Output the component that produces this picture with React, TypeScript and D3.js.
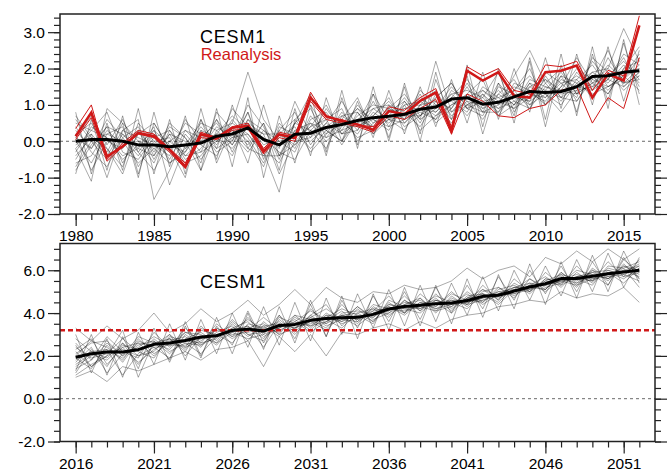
import React, { useEffect, useRef } from "react"
import * as d3 from "d3"

// years on the x axis
const yearsTop = d3.range(1980, 2017)
const yearsBottom = d3.range(2016, 2053)

// tick labels
const xTicksTop = [1980, 1985, 1990, 1995, 2000, 2005, 2010, 2015]
const xTicksBottom = [2016, 2021, 2026, 2031, 2036, 2041, 2046, 2051]
const yTicksTop = [-2, -1, 0, 1, 2, 3]
const yTicksBottom = [-2, 0, 2, 4, 6]

// ensemble mean, 1980-2016
const meanTop = [0.0, 0.05, 0.05, 0.0, -0.1, -0.1, -0.15, -0.1, -0.05, 0.14, 0.2, 0.37, 0.05, -0.1, 0.19, 0.22, 0.38, 0.46, 0.57, 0.65, 0.69, 0.74, 0.88, 0.94, 1.16, 1.2, 1.02, 1.07, 1.22, 1.37, 1.34, 1.37, 1.5, 1.78, 1.8, 1.9, 1.94]

// reanalysis products, 1980-2016 (first one is drawn thick)
const reanMain = [0.14, 0.79, -0.42, -0.14, 0.23, 0.14, -0.23, -0.69, 0.19, 0.09, 0.37, 0.42, -0.28, 0.19, 0.09, 1.2, 0.69, 0.56, 0.46, 0.32, 0.83, 0.74, 1.11, 1.34, 0.28, 1.94, 1.67, 1.9, 1.25, 1.2, 1.9, 1.94, 2.08, 1.2, 1.85, 1.67, 3.19]
const reanB = [0.35, 1.0, -0.5, -0.05, 0.3, 0.2, -0.2, -0.6, 0.25, 0.1, 0.4, 0.5, -0.2, 0.25, 0.15, 1.35, 0.65, 0.6, 0.45, 0.4, 0.95, 0.85, 1.2, 1.45, 0.4, 2.05, 1.8, 2.0, 1.4, 1.3, 2.1, 2.05, 2.2, 1.4, 1.95, 1.8, 3.45]
const reanC = [0.05, 0.65, -0.55, -0.15, 0.2, 0.1, -0.3, -0.75, 0.1, 0.05, 0.3, 0.35, -0.35, 0.1, 0.0, 1.1, 0.6, 0.5, 0.4, 0.25, 0.7, 0.6, 0.9, 1.15, 0.2, 1.3, 1.1, 0.7, 0.65, 0.9, 1.0, 1.4, 1.5, 0.5, 1.2, 0.9, 2.3]

// ensemble members, 1980-2016
const membersTop = [
  [0.3, -0.2, 0.6, 0.1, -0.4, 0.2, -0.5, 0.3, 0.1, 0.5, -0.1, 0.8, -0.3, 0.2, 0.6, 0.1, 0.9, 0.3, 1.0, 0.5, 0.9, 1.3, 0.7, 1.2, 1.6, 0.9, 1.4, 1.0, 1.8, 2.5, 1.6, 2.0, 1.3, 2.2, 1.7, 2.4, 2.1],
  [-0.5, 0.2, -0.3, 0.5, 0.0, -0.6, 0.3, -0.2, 0.4, -0.1, 0.6, 0.1, -0.6, 0.3, -0.2, 0.7, 0.2, 0.8, 0.3, 1.1, 0.4, 0.6, 1.3, 0.5, 0.9, 1.5, 0.8, 1.6, 1.1, 0.9, 1.8, 1.2, 1.9, 1.4, 2.3, 1.6, 1.8],
  [0.7, 0.1, -0.4, 0.3, 0.6, -1.6, -0.8, 0.2, -0.3, 0.6, 0.0, 1.0, 0.4, -0.5, 0.5, 0.9, 0.1, 0.6, 1.2, 0.2, 0.8, 1.1, 0.6, 2.2, 0.8, 1.3, 1.7, 0.7, 1.4, 2.0, 1.0, 1.5, 2.3, 1.6, 1.3, 2.0, 2.6],
  [-0.8, -0.1, 0.4, -0.6, 0.2, 0.5, -0.2, -0.7, 0.3, 0.1, -0.4, 0.5, 0.2, -0.9, 0.0, 0.4, 1.0, 0.2, 0.5, 1.3, 0.6, 0.3, 1.0, 1.4, 0.7, 1.0, 1.2, 1.9, 0.8, 1.5, 1.2, 1.8, 1.1, 1.7, 2.5, 1.5, 1.9],
  [0.2, 0.5, -0.2, -0.9, 0.3, -0.3, 0.4, 0.1, -0.6, 0.8, 0.3, -0.2, -0.4, 0.3, 0.8, -0.1, 0.5, 1.1, 0.4, 0.7, 1.2, 0.5, 0.9, 0.6, 1.4, 1.1, 0.6, 1.3, 1.7, 1.0, 1.6, 1.1, 1.7, 2.1, 1.5, 1.8, 1.4],
  [0.0, -0.6, 0.2, 0.4, -0.7, 0.0, -0.3, 0.5, 0.2, -0.2, 0.9, 0.4, -0.2, -0.6, 0.3, 0.5, 0.0, 0.4, 0.9, 0.6, 0.3, 1.0, 1.1, 0.8, 1.2, 1.7, 1.1, 0.9, 1.4, 1.8, 1.3, 1.0, 1.6, 1.9, 2.0, 3.1, 2.2],
  [-0.3, 0.4, 0.1, -0.4, -0.2, 0.4, -1.2, -0.1, 0.5, 0.3, 0.5, 1.9, 0.6, 0.0, -0.3, 0.6, 0.8, 0.2, 0.7, 1.0, 0.9, 0.6, 1.4, 1.0, 1.1, 0.8, 1.5, 1.2, 0.9, 1.6, 1.4, 1.9, 1.3, 1.6, 1.8, 2.2, 1.7],
  [0.4, -0.3, -0.7, 0.1, 0.4, -0.4, 0.2, -0.5, -0.2, 0.4, 0.1, 0.2, -0.3, -1.4, 0.6, 1.0, 0.3, 0.0, 0.6, 0.9, 1.0, 0.4, 0.7, 1.2, 1.6, 0.9, 0.7, 1.5, 1.3, 1.1, 1.9, 1.6, 1.2, 2.3, 1.9, 1.6, 2.0],
  [-0.2, 0.3, 0.8, -0.3, -0.5, 0.1, 0.3, -0.4, 0.0, 0.6, -0.3, 0.6, 0.3, -0.2, 1.1, 0.2, 0.6, 0.9, 0.0, 0.5, 0.7, 1.2, 0.6, 0.9, 1.3, 1.4, 1.2, 0.8, 1.6, 1.4, 1.0, 1.5, 1.8, 1.5, 2.1, 1.7, 2.3],
  [0.6, 0.0, -0.5, 0.2, -0.3, -0.8, 0.0, 0.3, -0.1, -0.4, 0.4, 0.0, -0.7, 0.4, 0.2, 0.0, 0.4, 0.7, 0.8, 0.3, 1.0, 0.8, 0.4, 1.1, 0.9, 1.6, 0.9, 1.3, 1.0, 1.7, 1.5, 1.3, 1.4, 1.9, 1.6, 2.1, 1.6],
  [-0.6, -0.4, 0.3, -0.1, 0.0, -0.2, -0.6, -0.2, 0.2, 0.0, 0.3, -0.1, 0.5, -0.4, -0.1, 0.3, 0.7, 0.5, 0.2, 0.8, 0.5, 0.9, 1.0, 0.7, 1.0, 1.2, 0.9, 1.1, 1.5, 1.3, 1.1, 1.7, 1.5, 1.4, 1.7, 2.3, 1.5],
  [0.1, 0.7, -0.1, 0.6, -0.3, 0.3, -0.1, -0.3, 0.6, -0.2, 0.1, 0.5, -0.1, 0.1, 0.4, -0.3, 0.2, 0.5, 0.9, 0.4, 0.6, 0.7, 1.2, 0.9, 1.5, 1.0, 1.3, 0.9, 1.1, 1.5, 1.7, 1.4, 2.0, 1.7, 1.5, 1.8, 2.4],
  [-0.4, 0.1, -0.2, -0.7, 0.5, 0.0, 0.1, -0.6, -0.4, 0.2, 0.7, 0.3, 0.1, -0.3, -0.5, 0.3, 0.1, 0.3, 0.5, 0.7, 1.1, 0.6, 0.8, 0.6, 1.0, 1.3, 0.8, 1.0, 1.2, 1.1, 1.4, 1.2, 1.5, 1.8, 1.4, 1.9, 2.0],
  [0.2, -0.8, 0.0, -0.2, 0.3, -0.5, 0.2, 0.0, -0.8, 0.3, -0.1, 0.6, 0.0, -0.1, 0.5, 0.3, -0.2, 0.7, 0.4, 0.6, 0.4, 1.1, 0.5, 1.3, 0.8, 1.1, 1.0, 1.4, 1.0, 1.3, 1.2, 1.6, 1.7, 1.2, 1.9, 1.4, 1.8],
  [-0.1, 0.2, -1.0, 0.3, 0.1, -0.1, -0.4, 0.6, 0.0, 0.2, 0.2, -0.3, 0.3, 0.0, 0.1, 0.4, 0.6, -0.1, 0.6, 0.4, 0.8, 0.9, 0.9, 0.8, 1.3, 0.9, 1.1, 1.2, 1.4, 0.9, 1.5, 1.4, 1.3, 1.6, 2.0, 1.6, 1.7],
  [0.5, 0.3, 0.1, -0.5, -0.1, 0.3, -0.6, -0.3, 0.3, -0.3, 0.0, 0.8, -0.5, 0.5, 0.0, 0.1, 0.5, 0.2, 0.3, 0.9, 0.6, 0.5, 1.0, 1.1, 0.6, 1.2, 1.4, 1.1, 0.9, 1.2, 1.7, 1.2, 1.1, 1.8, 1.3, 2.0, 2.2],
  [-0.7, 0.0, 0.2, 0.0, -0.6, -0.2, 0.0, -0.4, -0.3, 0.0, 0.5, 0.2, -0.4, -0.4, 0.3, -0.2, 0.3, 0.6, 0.1, 0.3, 0.9, 0.7, 0.7, 1.0, 0.5, 1.0, 0.8, 0.8, 1.3, 1.0, 1.3, 0.8, 1.4, 1.5, 1.7, 1.5, 1.9],
  [0.1, -0.2, 0.4, 0.2, -0.2, -0.4, 0.5, 0.1, -0.5, 0.1, -0.2, 0.4, 0.2, 0.2, -0.1, 0.5, 0.3, 0.0, 0.8, 0.2, 0.6, 1.0, 0.3, 0.7, 1.2, 0.7, 1.3, 0.7, 1.0, 1.6, 1.0, 1.8, 1.6, 1.3, 1.5, 1.7, 2.1],
  [-0.9, 0.6, -0.8, 0.7, -0.9, 0.5, -0.2, -1.0, 0.6, -0.5, 1.0, -0.2, 0.5, -0.8, 0.9, -0.4, 1.2, 0.0, 1.1, 0.1, 1.4, 0.2, 1.5, 0.4, 1.7, 0.5, 1.9, 0.6, 2.0, 0.8, 2.3, 0.9, 2.4, 1.0, 2.6, 1.1, 2.5],
  [0.8, -0.9, 0.5, -0.8, 0.9, -0.9, 0.6, -0.9, 0.9, -0.6, 0.4, -0.6, 1.0, -0.4, 0.5, 1.3, -0.3, 1.4, -0.2, 1.5, 0.0, 1.6, 0.2, 1.9, 0.3, 2.1, 0.4, 2.0, 0.5, 2.3, 0.6, 2.4, 0.7, 2.6, 0.9, 2.8, 1.0],
  [-0.2, -1.1, 0.9, 0.5, -1.0, 0.8, -0.7, 0.7, -0.8, 0.9, -0.7, 1.2, -1.0, 0.7, -0.6, 1.0, -0.4, 1.2, -0.1, 1.3, 0.1, 1.5, 0.0, 1.7, 0.6, 1.8, 0.2, 1.6, 0.7, 2.2, 0.4, 2.1, 0.8, 2.4, 1.1, 2.7, 1.3],
]

// ensemble mean, 2016-2052
const meanBottom = [1.94, 2.1, 2.18, 2.18, 2.29, 2.54, 2.6, 2.72, 2.88, 2.94, 3.19, 3.25, 3.16, 3.42, 3.47, 3.66, 3.75, 3.78, 3.8, 3.94, 4.19, 4.31, 4.36, 4.44, 4.47, 4.59, 4.78, 4.83, 5.03, 5.22, 5.37, 5.61, 5.61, 5.72, 5.84, 5.92, 6.0]

// ensemble members, 2016-2052
const membersBottom = [
  [2.6, 1.8, 2.9, 2.2, 1.9, 3.1, 2.4, 3.3, 2.6, 3.5, 2.9, 3.8, 3.0, 3.9, 3.2, 4.2, 3.5, 4.4, 3.6, 4.1, 4.8, 4.0, 4.9, 4.3, 5.0, 4.4, 5.3, 4.6, 5.6, 5.0, 5.9, 5.3, 6.2, 5.5, 6.4, 5.7, 6.5],
  [1.2, 2.3, 1.5, 2.6, 2.0, 2.2, 3.0, 2.4, 3.4, 2.7, 3.6, 3.0, 2.7, 3.7, 3.1, 3.9, 4.4, 3.4, 4.2, 3.6, 4.5, 4.0, 4.7, 4.1, 4.3, 5.0, 4.5, 5.2, 4.7, 5.6, 5.1, 5.9, 5.3, 6.0, 5.5, 6.3, 5.6],
  [1.9, 1.4, 2.5, 1.7, 2.7, 2.4, 1.9, 3.0, 2.5, 3.1, 3.4, 2.7, 3.6, 3.0, 3.9, 3.3, 4.0, 3.6, 4.3, 3.7, 4.0, 4.6, 4.1, 4.9, 4.2, 4.7, 5.1, 4.6, 5.4, 5.0, 5.5, 5.8, 5.2, 6.1, 5.6, 6.2, 5.8],
  [2.3, 2.8, 1.6, 2.4, 2.6, 2.0, 2.8, 2.3, 3.2, 3.0, 2.6, 3.5, 3.3, 3.1, 3.8, 3.4, 3.6, 4.1, 3.5, 4.3, 3.9, 4.4, 4.7, 4.0, 4.8, 4.3, 5.0, 5.2, 4.8, 5.3, 5.7, 5.2, 5.9, 5.4, 6.1, 5.9, 6.3],
  [1.5, 2.0, 2.3, 1.1, 2.1, 2.8, 2.2, 2.6, 2.1, 2.9, 3.2, 3.4, 2.4, 3.5, 3.3, 3.6, 3.2, 3.9, 4.0, 3.6, 4.4, 4.2, 4.0, 4.6, 4.4, 4.9, 4.4, 4.9, 5.2, 5.4, 5.0, 5.6, 5.8, 5.6, 5.9, 5.4, 6.1],
  [2.8, 2.2, 1.9, 2.6, 1.6, 2.5, 3.0, 2.0, 2.9, 2.6, 3.5, 2.9, 3.4, 2.9, 3.6, 4.1, 3.7, 3.3, 4.0, 4.2, 3.8, 4.6, 4.2, 4.7, 4.1, 4.8, 4.9, 4.4, 5.1, 5.6, 5.2, 5.4, 6.0, 5.8, 5.3, 6.5, 5.9],
  [1.1, 1.6, 2.0, 2.4, 1.7, 2.3, 2.7, 2.9, 2.4, 3.3, 2.9, 3.2, 3.8, 3.2, 3.5, 3.4, 3.9, 3.8, 3.4, 4.0, 4.3, 3.9, 4.5, 4.2, 4.6, 4.5, 4.7, 5.0, 4.9, 5.1, 5.4, 5.7, 5.5, 5.9, 6.0, 5.8, 5.5],
  [2.1, 2.6, 2.7, 2.0, 2.9, 2.6, 2.3, 3.1, 3.0, 2.5, 3.3, 3.6, 2.9, 3.3, 3.9, 3.7, 3.3, 4.0, 4.1, 3.9, 4.1, 4.5, 4.4, 4.3, 4.9, 4.6, 4.5, 5.1, 5.3, 4.9, 5.6, 5.5, 5.6, 5.3, 6.2, 6.1, 6.4],
  [1.7, 2.4, 1.2, 2.1, 2.4, 2.9, 2.5, 2.5, 2.8, 3.2, 3.0, 3.1, 3.3, 3.6, 3.0, 3.8, 4.2, 3.7, 3.6, 4.4, 4.2, 4.1, 4.3, 4.8, 4.5, 4.2, 4.9, 4.7, 5.0, 5.3, 5.1, 5.9, 5.4, 5.7, 5.8, 6.0, 5.7],
  [2.4, 1.9, 2.1, 2.8, 2.2, 1.9, 2.9, 2.7, 2.6, 2.8, 3.7, 3.0, 3.1, 3.4, 3.4, 3.5, 3.8, 4.2, 3.9, 3.5, 4.6, 4.3, 4.2, 4.5, 4.0, 4.7, 4.8, 4.9, 5.2, 5.1, 5.5, 5.3, 5.7, 5.9, 5.6, 6.2, 6.0],
  [1.4, 1.8, 2.6, 2.0, 2.5, 2.7, 2.1, 2.8, 3.1, 2.6, 3.1, 2.8, 3.0, 3.3, 3.6, 3.1, 3.6, 3.9, 3.7, 4.0, 4.0, 4.4, 4.6, 4.2, 4.4, 4.6, 4.6, 4.8, 5.0, 5.4, 5.3, 5.5, 5.3, 5.6, 5.7, 6.1, 5.2],
  [2.0, 2.7, 2.4, 1.8, 2.8, 2.1, 2.6, 2.4, 2.7, 3.3, 2.8, 3.3, 3.5, 3.0, 3.3, 3.9, 3.4, 3.7, 4.3, 3.8, 4.3, 4.0, 4.5, 4.4, 4.6, 4.4, 5.1, 4.8, 5.0, 5.2, 5.4, 5.6, 5.4, 6.0, 5.7, 5.8, 6.2],
  [1.6, 2.1, 1.8, 2.5, 2.3, 2.6, 2.8, 2.2, 3.3, 2.9, 3.2, 3.7, 3.2, 3.3, 3.7, 3.2, 3.9, 3.5, 3.8, 4.1, 4.2, 4.2, 4.3, 4.1, 4.7, 4.4, 4.6, 5.0, 5.1, 5.0, 5.6, 5.4, 5.7, 5.5, 5.9, 5.6, 6.1],
  [2.2, 1.5, 2.2, 2.3, 2.0, 2.4, 2.5, 3.1, 2.8, 3.0, 3.1, 3.4, 2.8, 3.8, 3.5, 3.8, 3.5, 3.9, 3.7, 4.2, 4.1, 4.8, 4.1, 4.6, 4.3, 4.7, 4.9, 4.5, 5.2, 5.2, 5.1, 5.8, 5.6, 5.5, 6.0, 5.7, 5.9],
  [1.8, 2.2, 2.3, 1.9, 2.6, 2.5, 2.8, 2.6, 2.5, 2.9, 3.3, 3.2, 3.4, 3.5, 3.3, 3.6, 3.8, 3.6, 3.9, 3.8, 4.4, 4.3, 4.4, 4.6, 4.4, 4.5, 4.7, 4.9, 4.9, 5.3, 5.3, 5.5, 5.7, 5.8, 5.6, 6.0, 6.2],
  [1.0, 1.3, 0.8, 1.5, 1.3, 1.6, 1.9, 2.2, 1.8, 2.3, 2.4, 2.7, 1.5, 2.9, 2.2, 3.0, 2.0, 3.1, 3.0, 3.3, 3.5, 3.2, 3.6, 3.3, 3.7, 3.9, 4.0, 4.3, 4.4, 4.6, 4.5, 5.0, 4.7, 4.9, 4.8, 5.2, 4.5],
  [3.3, 2.7, 3.4, 2.8, 3.2, 4.0, 3.1, 3.5, 4.2, 3.6, 4.0, 4.6, 3.9, 4.4, 5.1, 4.4, 5.2, 4.7, 4.5, 5.0, 4.9, 5.3, 5.1, 5.2, 5.5, 6.1, 5.6, 6.0, 6.2, 5.7, 6.6, 6.3, 6.9, 6.4, 7.0, 6.5, 7.0],
  [1.3, 3.0, 1.1, 2.9, 1.4, 3.3, 1.7, 3.4, 1.9, 3.8, 2.1, 4.0, 2.3, 4.3, 2.6, 4.6, 2.9, 4.8, 2.8, 4.9, 3.2, 5.2, 3.4, 5.3, 3.5, 5.6, 3.8, 5.8, 4.2, 6.3, 4.4, 6.4, 4.7, 6.7, 5.0, 6.9, 5.4],
  [3.0, 1.2, 2.8, 1.0, 3.1, 1.6, 3.5, 1.8, 3.7, 2.1, 4.0, 2.4, 4.3, 2.5, 4.5, 2.7, 4.7, 3.0, 4.9, 3.3, 5.1, 3.4, 5.3, 3.6, 5.4, 3.9, 5.7, 4.1, 6.0, 4.6, 6.2, 4.8, 6.5, 5.0, 6.8, 5.2, 6.6],
  [2.5, 1.5, 2.0, 3.2, 1.0, 2.7, 1.8, 3.6, 2.0, 3.4, 2.5, 4.1, 2.6, 3.9, 2.8, 4.4, 2.9, 4.6, 3.3, 4.8, 3.6, 5.0, 3.7, 5.2, 4.0, 5.3, 4.2, 5.7, 4.6, 6.0, 4.9, 6.2, 5.0, 6.4, 5.3, 6.6, 5.6],
]

const threshold = 3.2

const W = 672
const H = 472
const L = 60
const R = 655
const RED = "#d01818"
const FONT = "'Liberation Sans', Arial, Helvetica, sans-serif"

function fmt(v) {
  return v.toFixed(1)
}

function drawPanel(svg, opt) {
  const x = d3.scaleLinear().domain(opt.xDomain).range([L, R])
  const y = d3.scaleLinear().domain(opt.yDomain).range([opt.bottom, opt.top])
  const g = svg.append("g")

  const line = d3
    .line()
    .x((d, i) => x(opt.years[i]))
    .y(d => y(d))

  // zero line
  g.append("line")
    .attr("x1", L)
    .attr("x2", R)
    .attr("y1", y(0))
    .attr("y2", y(0))
    .attr("stroke", "#444")
    .attr("stroke-width", 0.8)
    .attr("stroke-dasharray", "3,3")

  // ensemble members
  g.selectAll(".member")
    .data(opt.members)
    .enter()
    .append("path")
    .attr("d", d => line(d))
    .attr("fill", "none")
    .attr("stroke", "#000")
    .attr("stroke-opacity", 0.42)
    .attr("stroke-width", 0.8)

  if (opt.threshold != null) {
    g.append("line")
      .attr("x1", L)
      .attr("x2", R)
      .attr("y1", y(opt.threshold))
      .attr("y2", y(opt.threshold))
      .attr("stroke", RED)
      .attr("stroke-width", 2.5)
      .attr("stroke-dasharray", "5,3")
  }

  // reanalysis: thin ones first, the main one thick on top
  if (opt.rean) {
    opt.rean.slice(1).forEach(r => {
      g.append("path")
        .attr("d", line(r))
        .attr("fill", "none")
        .attr("stroke", RED)
        .attr("stroke-width", 1)
    })
    g.append("path")
      .attr("d", line(opt.rean[0]))
      .attr("fill", "none")
      .attr("stroke", RED)
      .attr("stroke-width", 2.6)
  }

  // ensemble mean
  g.append("path")
    .attr("d", line(opt.mean))
    .attr("fill", "none")
    .attr("stroke", "#000")
    .attr("stroke-width", 3)
    .attr("stroke-linejoin", "round")

  // minor ticks
  const minorY = d3.range(opt.yDomain[0], opt.yDomain[1] + 1e-9, opt.yMinor)
  g.append("g")
    .attr("transform", `translate(${L},0)`)
    .call(d3.axisLeft(y).tickValues(minorY).tickSize(6).tickFormat(""))
  g.append("g")
    .attr("transform", `translate(${R},0)`)
    .call(d3.axisRight(y).tickValues(minorY).tickSize(6).tickFormat(""))
  g.append("g")
    .attr("transform", `translate(0,${opt.bottom})`)
    .call(d3.axisBottom(x).tickValues(opt.years).tickSize(6).tickFormat(""))

  // major ticks with labels
  g.append("g")
    .attr("transform", `translate(${L},0)`)
    .call(d3.axisLeft(y).tickValues(opt.yTicks).tickSize(12).tickPadding(3).tickFormat(fmt))
  g.append("g")
    .attr("transform", `translate(${R},0)`)
    .call(d3.axisRight(y).tickValues(opt.yTicks).tickSize(12).tickFormat(""))
  g.append("g")
    .attr("transform", `translate(0,${opt.bottom})`)
    .call(d3.axisBottom(x).tickValues(opt.xTicks).tickSize(12).tickPadding(4).tickFormat(d => String(d)))

  g.selectAll(".domain").remove()
  g.selectAll(".tick line").attr("stroke", "#222").attr("stroke-width", 1.2)
  g.selectAll(".tick text")
    .attr("font-family", FONT)
    .attr("font-size", 15.5)
    .attr("fill", "#000")

  // frame
  g.append("rect")
    .attr("x", L)
    .attr("y", opt.top)
    .attr("width", R - L)
    .attr("height", opt.bottom - opt.top)
    .attr("fill", "none")
    .attr("stroke", "#222")
    .attr("stroke-width", 1.5)

  // titles
  opt.titles.forEach(t => {
    g.append("text")
      .attr("x", t.x)
      .attr("y", t.y)
      .attr("text-anchor", "middle")
      .attr("font-family", FONT)
      .attr("font-size", t.size)
      .attr("letter-spacing", t.spacing)
      .attr("fill", t.color)
      .text(t.text)
  })
}

export default function App() {
  const ref = useRef(null)

  useEffect(() => {
    const svg = d3.select(ref.current)
    svg.selectAll("*").remove()

    drawPanel(svg, {
      years: yearsTop,
      xDomain: [1979, 2017],
      yDomain: [-2, 3.5],
      top: 14,
      bottom: 214,
      yMinor: 0.2,
      yTicks: yTicksTop,
      xTicks: xTicksTop,
      members: membersTop,
      mean: meanTop,
      rean: [reanMain, reanB, reanC],
      titles: [
        { text: "CESM1", x: 233, y: 43, size: 18, spacing: 0.8, color: "#000" },
        { text: "Reanalysis", x: 241, y: 60, size: 16.5, spacing: 0, color: RED },
      ],
    })

    drawPanel(svg, {
      years: yearsBottom,
      xDomain: [2015, 2053],
      yDomain: [-2, 7.25],
      top: 243.5,
      bottom: 441.5,
      yMinor: 0.5,
      yTicks: yTicksBottom,
      xTicks: xTicksBottom,
      members: membersBottom,
      mean: meanBottom,
      threshold: threshold,
      titles: [{ text: "CESM1", x: 233, y: 288, size: 18, spacing: 0.8, color: "#000" }],
    })
  }, [])

  return (
    <div style={{ position: "absolute", left: 0, top: 0, width: W, height: H, background: "#fff" }}>
      <svg ref={ref} width={W} height={H} />
    </div>
  )
}
